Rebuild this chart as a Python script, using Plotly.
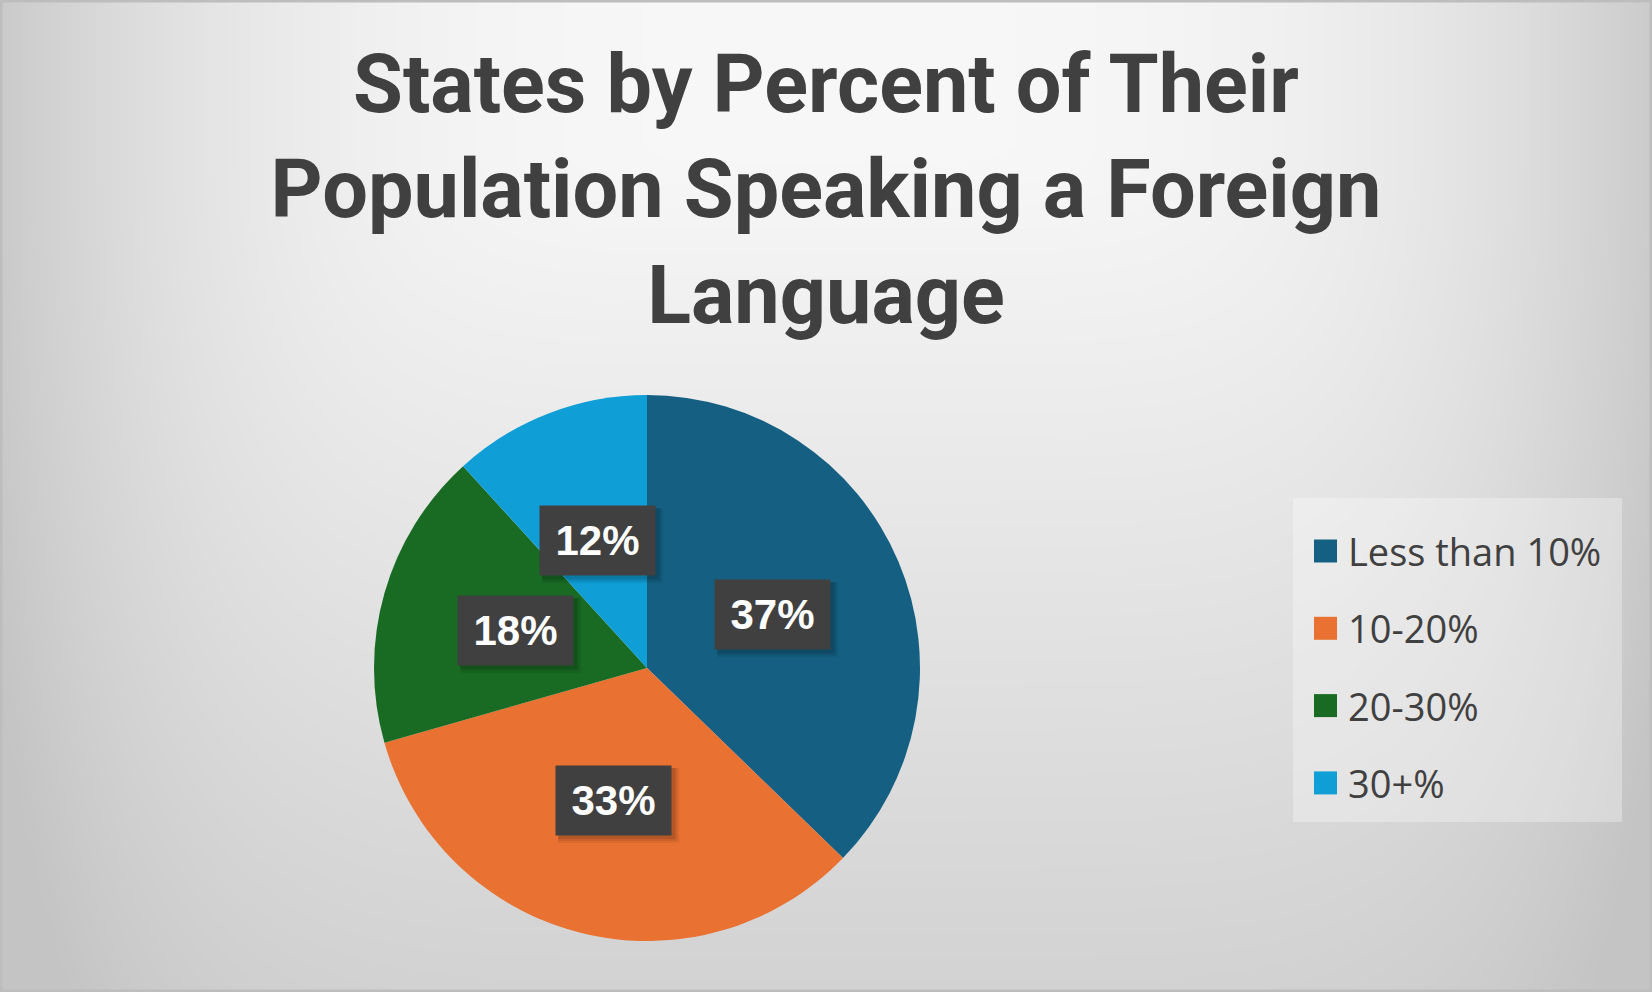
import math
import numpy as np
import plotly.graph_objects as go

# ---- data ----
categories = ["Less than 10%", "10-20%", "20-30%", "30+%"]
state_counts = [19, 17, 9, 6]
colors = ["#156082", "#E97132", "#196B24", "#0F9ED5"]
title_text = "States by Percent of Their<br>Population Speaking a Foreign<br>Language"

W, H = 1652, 992

# ---- background gradient (styling) ----
gx = np.linspace(0, W, 100)
gy = np.linspace(0, H, 70)
XX, YY = np.meshgrid(gx, gy)
hterm = 47 * np.clip(np.abs((XX - 830) / 840), 0, 1.1) ** 3
vterm = 0.044 * np.clip(YY - 150, 0, None)
zz = np.clip(247 - np.sqrt(hterm ** 2 + vterm ** 2), 196, 250)

fig = go.Figure()
fig.add_trace(go.Heatmap(
    x=gx, y=gy, z=zz, zmin=0, zmax=255, zsmooth="best",
    colorscale=[[0, "rgb(0,0,0)"], [1, "rgb(255,255,255)"]],
    showscale=False, hoverinfo="skip",
))

# ---- pie ----
dom_x = [374 / W, 920 / W]
dom_y = [1 - 941 / H, 1 - 395 / H]
fig.add_trace(go.Pie(
    labels=categories, values=state_counts, sort=False,
    direction="clockwise", rotation=0,
    marker=dict(colors=colors, line=dict(width=0)),
    textinfo="none", domain=dict(x=dom_x, y=dom_y),
    showlegend=False, hoverinfo="label+percent",
))

# ---- data labels (boxes at half radius along slice mid-angle) ----
cx = (dom_x[0] + dom_x[1]) / 2 * W
cy = (1 - (dom_y[0] + dom_y[1]) / 2) * H
rad = min((dom_x[1] - dom_x[0]) * W, (dom_y[1] - dom_y[0]) * H) / 2
total = sum(state_counts)
annotations = []
shapes = []
bw, bh = 115, 69
cum = 0
for v in state_counts:
    mid = (cum + v / 2) / total * 2 * math.pi
    cum += v
    px = cx + 0.5 * rad * math.sin(mid)
    py = cy - 0.5 * rad * math.cos(mid)
    txt = f"{round(v / total * 100)}%"
    # soft shadow
    for k, a in ((8, 0.06), (6, 0.08), (4, 0.10)):
        shapes.append(dict(type="rect", xref="paper", yref="paper",
                           x0=(px - bw / 2 + 2) / W, x1=(px + bw / 2 + k) / W,
                           y0=1 - (py + bh / 2 + k) / H,
                           y1=1 - (py - bh / 2 + 2) / H,
                           fillcolor=f"rgba(0,0,0,{a})", line=dict(width=0)))
    annotations.append(dict(text=f"<b>{txt}</b>", bgcolor="#404040",
                            x=px / W, y=1 - py / H, xref="paper", yref="paper",
                            showarrow=False, width=bw, height=bh, borderpad=0,
                            xanchor="center", yanchor="middle",
                            font=dict(color="white", size=42,
                                      family="Liberation Sans")))

# ---- legend (drawn) ----
shapes.append(dict(type="rect", xref="paper", yref="paper",
                   x0=1293 / W, x1=1622 / W, y0=1 - 822 / H, y1=1 - 498 / H,
                   fillcolor="rgba(255,255,255,0.3)", line=dict(width=0)))
row0, row_gap = 551, 77.3
for i, (lab, col) in enumerate(zip(categories, colors)):
    yc = row0 + i * row_gap
    shapes.append(dict(type="rect", xref="paper", yref="paper",
                       x0=1314 / W, x1=1337 / W,
                       y0=1 - (yc + 11.5) / H, y1=1 - (yc - 11.5) / H,
                       fillcolor=col, line=dict(width=0)))
    annotations.append(dict(text=lab, x=1346 / W, y=1 - yc / H,
                            xref="paper", yref="paper", showarrow=False,
                            xanchor="left", yanchor="middle",
                            font=dict(size=38, color="#404040",
                                      family="Open Sans")))

# outer frame
shapes.append(dict(type="rect", xref="paper", yref="paper", x0=0, x1=1,
                   y0=0, y1=1, line=dict(color="#bdbdbd", width=5),
                   fillcolor="rgba(0,0,0,0)"))

fig.update_layout(
    width=W, height=H,
    margin=dict(l=0, r=0, t=0, b=0),
    paper_bgcolor="#dcdcdc", plot_bgcolor="#dcdcdc",
    xaxis=dict(visible=False, range=[0, W], fixedrange=True),
    yaxis=dict(visible=False, range=[H, 0], fixedrange=True),
    title=dict(text=f"<b>{title_text}</b>", x=0.5, xanchor="center",
               y=1 - 112 / H, yanchor="top", yref="container",
               font=dict(size=81, color="#404040", family="Roboto")),
    annotations=annotations,
    shapes=shapes,
)

fig.write_html("out.html", config={"displayModeBar": False},
               post_script="document.body.style.margin='0';")
